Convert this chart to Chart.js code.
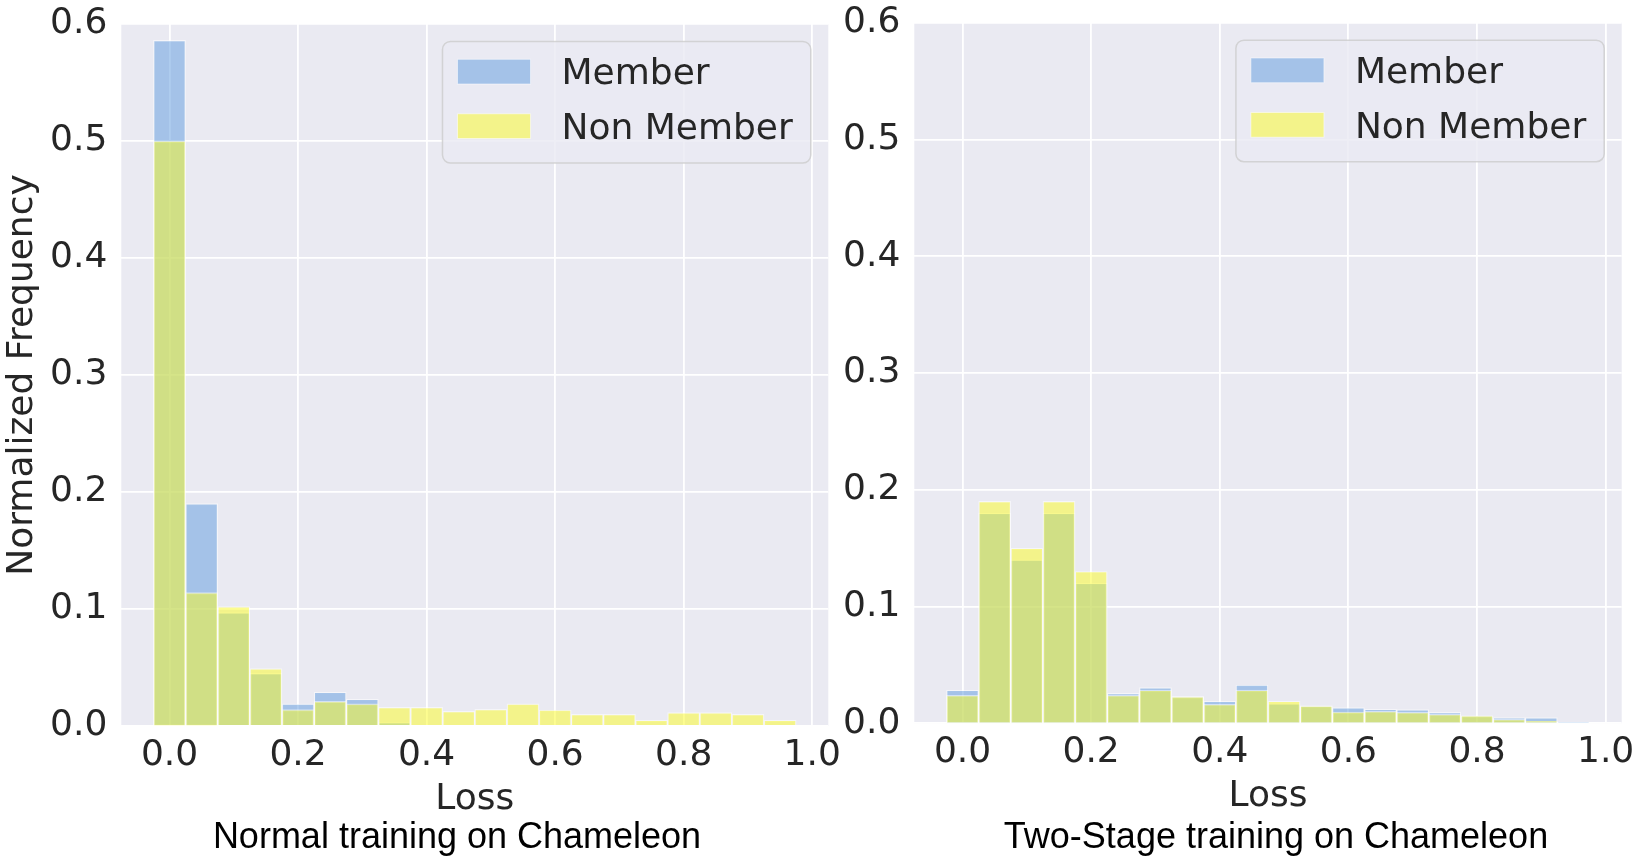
<!DOCTYPE html>
<html>
<head>
<meta charset="utf-8">
<script src="https://cdn.jsdelivr.net/npm/chart.js@4.4.1/dist/chart.umd.min.js"></script>
<style>
  body { margin: 0; background: #ffffff; width: 1640px; height: 864px; overflow: hidden; position: relative; }
  canvas { position: absolute; top: 0; }
  .caption { position: absolute; top: 818px; width: 700px; text-align: center; font-family: 'Liberation Sans', Arial, sans-serif; font-size: 36px; line-height: 36px; color: #000; white-space: nowrap; }
</style>
</head>
<body>
<canvas id="normalChart" width="840" height="864" style="left:0px;width:840px;height:864px"></canvas>
<canvas id="twoStageChart" width="800" height="864" style="left:840px;width:800px;height:864px"></canvas>
<div class="caption" style="left:107px">Normal training on Chameleon</div>
<div class="caption" style="left:926px">Two-Stage training on Chameleon</div>
<script>
// bin centres of the loss histogram (bin width 0.05)
var lossBins = [0.00, 0.05, 0.10, 0.15, 0.20, 0.25, 0.30, 0.35, 0.40, 0.45,
                0.50, 0.55, 0.60, 0.65, 0.70, 0.75, 0.80, 0.85, 0.90, 0.95];
var xTicks = [0.0, 0.2, 0.4, 0.6, 0.8, 1.0];
var seriesNames = ['Member', 'Non Member'];

// Normal training
var normalMember = [0.586, 0.190, 0.097, 0.045, 0.019, 0.029, 0.023, 0.003, 0, 0,
                    0, 0, 0, 0, 0, 0, 0, 0, 0, 0];
var normalNonMember = [0.500, 0.114, 0.102, 0.049, 0.014, 0.021, 0.019, 0.016, 0.016, 0.0126,
                       0.0143, 0.019, 0.0137, 0.010, 0.010, 0.005, 0.0114, 0.0114, 0.010, 0.005];

// Two-stage training
var twoStageMember = [0.0285, 0.18, 0.14, 0.18, 0.12, 0.0257, 0.0305, 0.0228, 0.019, 0.0328,
                      0.0168, 0.015, 0.0134, 0.0122, 0.0117, 0.0094, 0.0065, 0.0048, 0.0048, 0.0011];
var twoStageNonMember = [0.024, 0.19, 0.15, 0.19, 0.13, 0.024, 0.0285, 0.0228, 0.0163, 0.0285,
                         0.019, 0.015, 0.0097, 0.0103, 0.0094, 0.0077, 0.0065, 0.0034, 0.002, 0];

var memberColor = 'rgba(94, 154, 222, 0.5)';
var nonMemberColor = 'rgba(252, 252, 34, 0.5)';
var edgeColor = 'rgba(255, 255, 255, 0.5)';
var textColor = '#262626';
var panelColor = '#eaeaf2';

Chart.defaults.font.family = "'DejaVu Sans', sans-serif";
Chart.defaults.color = textColor;

function toPoints(values) {
    return lossBins.map(function(x, i) { return { x: x, y: values[i] }; });
}

// grey panel behind the grid
var panelPlugin = {
    id: 'panel',
    beforeDraw: function(chart) {
        var a = chart.chartArea;
        var ctx = chart.ctx;
        ctx.save();
        ctx.fillStyle = panelColor;
        ctx.fillRect(a.left, a.top, a.right - a.left, a.bottom - a.top);
        ctx.restore();
    }
};

// matplotlib-like framed legend in the upper right corner of the plot
var boxLegendPlugin = {
    id: 'boxLegend',
    afterDatasetsDraw: function(chart) {
        var a = chart.chartArea;
        var ctx = chart.ctx;
        var sets = chart.data.datasets;
        ctx.save();
        ctx.font = '36px "DejaVu Sans"';
        var textW = 0;
        sets.forEach(function(ds) { textW = Math.max(textW, ctx.measureText(ds.label).width); });
        var w = 15 + 73 + 31 + textW + 18;
        var h = 121.5;
        var x0 = a.right - 17.5 - w;
        var y0 = a.top + 17.5;

        ctx.beginPath();
        ctx.roundRect(x0, y0, w, h, 8);
        ctx.fillStyle = 'rgba(234, 234, 242, 0.8)';
        ctx.fill();
        ctx.lineWidth = 1.5;
        ctx.strokeStyle = 'rgba(204, 204, 204, 0.8)';
        ctx.stroke();

        sets.forEach(function(ds, i) {
            var py = y0 + 17.8 + i * 54.5;
            ctx.fillStyle = ds.backgroundColor;
            ctx.fillRect(x0 + 15, py, 73, 24.7);
            ctx.lineWidth = 1;
            ctx.strokeStyle = ds.borderColor;
            ctx.strokeRect(x0 + 15, py, 73, 24.7);
            ctx.fillStyle = textColor;
            ctx.textBaseline = 'alphabetic';
            ctx.textAlign = 'left';
            ctx.fillText(ds.label, x0 + 15 + 73 + 31, y0 + 42.8 + i * 55);
        });
        ctx.restore();
    }
};

function makeChart(canvasId, member, nonMember, opts) {
    var ctx = document.getElementById(canvasId).getContext('2d');
    return new Chart(ctx, {
        type: 'bar',
        data: {
            datasets: [{
                label: seriesNames[0],
                data: toPoints(member),
                backgroundColor: memberColor,
                borderColor: edgeColor,
                borderWidth: 1.2,
                grouped: false,
                order: 1
            }, {
                label: seriesNames[1],
                data: toPoints(nonMember),
                backgroundColor: nonMemberColor,
                borderColor: edgeColor,
                borderWidth: 1.2,
                grouped: false,
                order: 0
            }]
        },
        options: {
            responsive: false,
            animation: false,
            devicePixelRatio: 1,
            categoryPercentage: 1.0,
            barPercentage: 1.0,
            layout: { padding: { top: opts.top, right: opts.right, bottom: 0, left: 0 } },
            plugins: {
                legend: { display: false },
                tooltip: { enabled: false }
            },
            scales: {
                x: {
                    type: 'linear',
                    min: -0.075,
                    max: 1.025,
                    offset: false,
                    border: { display: false },
                    grid: { color: '#ffffff', lineWidth: 1.8, drawTicks: false, offset: false },
                    afterBuildTicks: function(axis) {
                        axis.ticks = xTicks.map(function(v) { return { value: v }; });
                    },
                    ticks: {
                        padding: 8,
                        font: { size: 36 },
                        color: textColor,
                        callback: function(v) { return Number(v).toFixed(1); }
                    },
                    title: {
                        display: true,
                        text: 'Loss',
                        color: textColor,
                        font: { size: 36 },
                        padding: { top: 0, bottom: opts.lossPad }
                    },
                    afterFit: function(scale) {
                        scale.height = opts.xHeight;
                        scale.paddingLeft = 0;
                        scale.paddingRight = 0;
                    }
                },
                y: {
                    min: 0,
                    max: 0.6,
                    border: { display: false },
                    grid: { color: '#ffffff', lineWidth: 1.8, drawTicks: false },
                    ticks: {
                        stepSize: 0.1,
                        padding: 14,
                        font: { size: 36 },
                        color: textColor,
                        callback: function(v) { return Number(v).toFixed(1); }
                    },
                    title: {
                        display: opts.yTitle,
                        text: 'Normalized Frequency',
                        color: textColor,
                        font: { size: 36 },
                        padding: { top: 1, bottom: 0 }
                    },
                    afterFit: function(scale) {
                        scale.width = opts.yWidth;
                        scale.paddingTop = 0;
                        scale.paddingBottom = 0;
                    }
                }
            }
        },
        plugins: [panelPlugin, boxLegendPlugin]
    });
}

var normalChart = makeChart('normalChart', normalMember, normalNonMember,
    { top: 24, right: 11.7, xHeight: 138, yWidth: 121.3, lossPad: 42.6, yTitle: true });
var twoStageChart = makeChart('twoStageChart', twoStageMember, twoStageNonMember,
    { top: 22.7, right: 18.3, xHeight: 140.7, yWidth: 74.3, lossPad: 45.7, yTitle: false });
</script>
</body>
</html>
